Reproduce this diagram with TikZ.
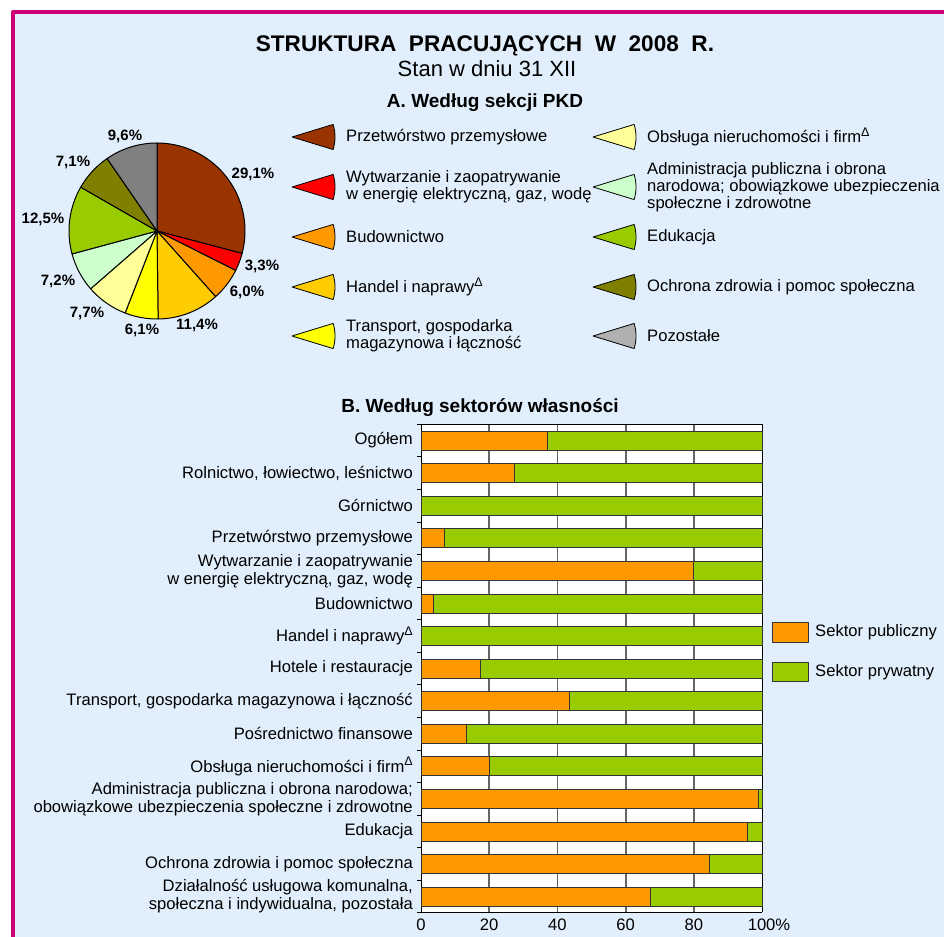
\documentclass[tikz,border=0pt]{standalone}
\usepackage{fontspec}
\setmainfont{Liberation Sans}
\usepackage{xcolor}
\usepackage{tikz}

\definecolor{Frame}{HTML}{CC0077}
\definecolor{Paper}{HTML}{E1EEFC}
\definecolor{Pkd1}{HTML}{993300}
\definecolor{Pkd2}{HTML}{FF0000}
\definecolor{Pkd3}{HTML}{FF9900}
\definecolor{Pkd4}{HTML}{FFCC00}
\definecolor{Pkd5}{HTML}{FFFF00}
\definecolor{Pkd6}{HTML}{FFFF99}
\definecolor{Pkd7}{HTML}{CCFFCC}
\definecolor{Pkd8}{HTML}{99CC00}
\definecolor{Pkd9}{HTML}{808000}
\definecolor{Pkd10}{HTML}{808080}
\definecolor{Pkd10leg}{HTML}{B0B0B0}
\definecolor{Pub}{HTML}{FF9900}
\definecolor{Priv}{HTML}{99CC00}

\newcommand{\deltamark}{\raisebox{6.5pt}{\fontsize{12.5}{12}\selectfont Δ}}

\begin{document}
\begin{tikzpicture}[
    x=1pt, y=-1pt,
    line join=round,
    every node/.style={inner sep=0pt, font=\fontsize{16.6}{17}\selectfont},
    title/.style={font=\fontsize{22.6}{24}\selectfont\bfseries},
    subtitle/.style={font=\fontsize{22}{24}\selectfont},
    head/.style={font=\fontsize{19}{20}\selectfont\bfseries},
    pct/.style={font=\fontsize{15}{16}\selectfont\bfseries},
    legtext/.style={anchor=west, align=left},
    barlab/.style={anchor=east, align=right, font=\fontsize{16.6}{18}\selectfont},
    pieline/.style={draw=black, line width=1pt},
    barline/.style={draw=black!80, line width=0.7pt},
    gridline/.style={draw=black!60, line width=1.8pt}
]

\useasboundingbox (0,0) rectangle (944,936);
\fill[white] (0,0) rectangle (944,936);
\begin{scope}
\clip (0,0) rectangle (944,936);
\draw[Frame, line width=4pt, fill=Paper] (13,12) rectangle (970,970);
\end{scope}

% titles
\node[title] (title) at (485,46) {STRUKTURA\ \ PRACUJĄCYCH\ \ W\ \ 2008\ \ R.};
\node[subtitle] (date) at (487,69) {Stan w dniu 31 XII};
\node[head] (headA) at (485,103) {A. Według sekcji PKD};
\node[head] (headB) at (480,408) {B. Według sektorów własności};

% pie
\def\pr{88}
\coordinate (pie) at (157,231);
\foreach \p/\col [remember=\e as \s (initially -90)] in
    {29.1/Pkd1, 3.3/Pkd2, 6.0/Pkd3, 11.4/Pkd4, 6.1/Pkd5,
     7.7/Pkd6, 7.2/Pkd7, 12.5/Pkd8, 7.1/Pkd9, 9.6/Pkd10}{
  \pgfmathsetmacro\e{\s+3.6*\p}
  \draw[pieline, fill=\col] (pie) -- ++(\s:\pr)
      arc[start angle=\s, end angle=\e, radius=\pr] -- cycle;
}
\foreach \t/\x/\y [count=\i] in
    {{29,1\%}/253/174, {3,3\%}/262/266, {6,0\%}/247/292, {11,4\%}/197/325,
     {6,1\%}/142/330, {7,7\%}/87/313, {7,2\%}/58/281, {12,5\%}/43/219,
     {7,1\%}/73/162, {9,6\%}/125/136}
  \node[pct] (pct\i) at (\x,\y) {\t};

% legend A
\def\wr{43}
\def\wa{17}
\foreach \col/\x/\y/\t [count=\i] in
    {Pkd1/292/137/{Przetwórstwo przemysłowe},
     Pkd2/292/187/{Wytwarzanie i zaopatrywanie\\w energię elektryczną, gaz, wodę},
     Pkd3/292/237/{Budownictwo},
     Pkd4/292/287/{Handel i naprawy\deltamark},
     Pkd5/292/336/{Transport, gospodarka\\magazynowa i łączność},
     Pkd6/593/137/{Obsługa nieruchomości i firm\deltamark},
     Pkd7/593/187/{Administracja publiczna i obrona\\narodowa; obowiązkowe ubezpieczenia\\społeczne i zdrowotne},
     Pkd8/593/237/{Edukacja},
     Pkd9/593/287/{Ochrona zdrowia i pomoc społeczna},
     Pkd10leg/593/336/{Pozostałe}}{
  \coordinate (tip\i) at (\x,\y);
  \draw[black, line width=0.8pt, fill=\col] (tip\i) -- ++(-\wa:\wr)
      arc[start angle=-\wa, end angle=\wa, radius=\wr] -- cycle;
  \node[legtext] (leg\i) at ([xshift=54pt]tip\i) {\t};
}

% bars
\def\bx{421}
\def\bw{3.41}
\def\by{424.3}
\def\bs{32.57}
\fill[white] (\bx,\by) rectangle (762,912);
\foreach \k in {1,...,4}
  \draw[gridline] (\bx+68.2*\k,\by) -- (\bx+68.2*\k,912);
\draw[black, line width=0.8pt] (\bx,912) -- (\bx,\by) -- (762,\by) -- (762,912);
\foreach \k in {0,...,15}
  \draw[black, line width=0.8pt] (417,\by+\bs*\k) -- (\bx,\by+\bs*\k);

\foreach \lab/\pub [count=\i from 0] in
    {{Ogółem}/37.0,
     {Rolnictwo, łowiectwo, leśnictwo}/27.5,
     {Górnictwo}/0,
     {Przetwórstwo przemysłowe}/6.9,
     {Wytwarzanie i zaopatrywanie\\w energię elektryczną, gaz, wodę}/80.0,
     {Budownictwo}/3.6,
     {Handel i naprawy\deltamark}/0,
     {Hotele i restauracje}/17.4,
     {Transport, gospodarka magazynowa i łączność}/43.5,
     {Pośrednictwo finansowe}/13.3,
     {Obsługa nieruchomości i firm\deltamark}/20.1,
     {Administracja publiczna i obrona narodowa;\\obowiązkowe ubezpieczenia społeczne i zdrowotne}/98.8,
     {Edukacja}/95.7,
     {Ochrona zdrowia i pomoc społeczna}/84.5,
     {Działalność usługowa komunalna,\\społeczna i indywidualna, pozostała}/67.2}{
  \pgfmathsetmacro\yc{\by+(\i+0.5)*\bs}
  \node[barlab] (lab\i) at (413,\yc) {\lab};
  \draw[barline, fill=Priv] (\bx,\yc-9.5) rectangle (762,\yc+9.5);
  \draw[barline, fill=Pub] (\bx,\yc-9.5) rectangle (\bx+\bw*\pub,\yc+9.5);
}
\draw[black, line width=0.8pt] (\bx,912) -- (762,912);

% axis
\foreach \v [count=\i from 0] in {0,20,40,60,80}
  \node (ax\i) at (\bx+68.2*\i,925) {\v};
\node (ax5) at (769,925) {100\%};

% legend B
\draw[barline, fill=Pub] (772,622) rectangle (808,642);
\node[legtext] (pubtxt) at (815,632) {Sektor publiczny};
\draw[barline, fill=Priv] (772,662) rectangle (808,681);
\node[legtext] (privtxt) at (815,672) {Sektor prywatny};

\end{tikzpicture}
\end{document}
